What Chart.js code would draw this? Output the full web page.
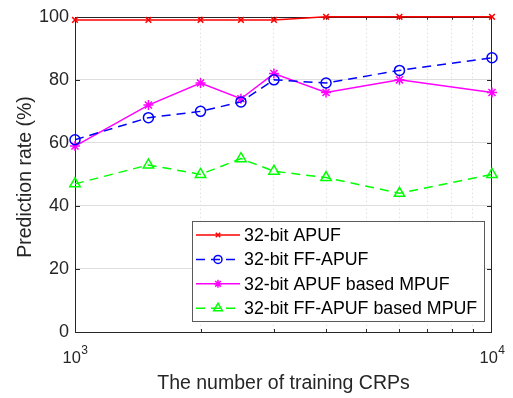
<!DOCTYPE html>
<html>
<head>
<meta charset="utf-8">
<script src="https://cdn.jsdelivr.net/npm/chart.js@4/dist/chart.umd.min.js"></script>
<style>
html,body{margin:0;padding:0;background:#fff;}
#wrap{width:513px;height:398px;position:relative;}
</style>
</head>
<body>
<div id="wrap"><canvas id="c" width="513" height="398"></canvas></div>
<script>
// training CRPs (log x axis)
const crps = [1000, 1500, 2000, 2500, 3000, 4000, 6000, 10000];
const apuf = [99, 99, 99, 99, 99, 100, 100, 100];
const ffApuf = [61, 68, 70, 73, 80, 79, 83, 87];
const apufMpuf = [59, 72, 79, 74, 82, 76, 80, 76];
const ffApufMpuf = [47, 53, 50, 55, 51, 49, 44, 50];
const seriesNames = ['32-bit APUF', '32-bit FF-APUF', '32-bit APUF based MPUF', '32-bit FF-APUF based MPUF'];
const yTicks = [0, 20, 40, 60, 80, 100];
const xGrid = [1000, 2000, 3000, 4000, 5000, 6000, 7000, 8000, 9000, 10000];
const xMinor = xGrid.slice(1, -1);

const AX = '#262626', FONT = 'Arial, "Liberation Sans", Helvetica, sans-serif';
const pts = arr => arr.map((v, i) => ({x: crps[i], y: v}));

function mk(label, data, color, style, r, dash) {
  return {label, data: pts(data), borderColor: color, backgroundColor: color,
    pointBorderColor: color, pointBackgroundColor: 'rgba(0,0,0,0)',
    pointStyle: style, pointRadius: r, pointHoverRadius: r, pointBorderWidth: 1.5,
    borderWidth: 1.5, borderDash: dash, tension: 0, fill: false, clip: false};
}

function marker(ctx, style, x, y, r) {
  ctx.beginPath();
  if (style === 'crossRot') {
    const d = r * 0.75;
    ctx.moveTo(x-d, y-d); ctx.lineTo(x+d, y+d); ctx.moveTo(x+d, y-d); ctx.lineTo(x-d, y+d);
  } else if (style === 'circle') {
    ctx.arc(x, y, r, 0, Math.PI*2);
  } else if (style === 'star') {
    const d = r * 0.7;
    ctx.moveTo(x-r, y); ctx.lineTo(x+r, y); ctx.moveTo(x, y-r); ctx.lineTo(x, y+r);
    ctx.moveTo(x-d, y-d); ctx.lineTo(x+d, y+d); ctx.moveTo(x+d, y-d); ctx.lineTo(x-d, y+d);
  } else if (style === 'triangle') {
    ctx.moveTo(x, y-r); ctx.lineTo(x+r*0.87, y+r*0.5); ctx.lineTo(x-r*0.87, y+r*0.5); ctx.closePath();
  }
  ctx.stroke();
}

const frame = {
  id: 'frame',
  beforeDatasetsDraw(chart) {
    const {ctx, chartArea: a, scales: {x, y}} = chart;
    ctx.save();
    ctx.strokeStyle = AX; ctx.lineWidth = 1;
    ctx.strokeRect(Math.round(a.left)+0.5, Math.round(a.top)+0.5, Math.round(a.right-a.left)-1, Math.round(a.bottom-a.top));
    ctx.beginPath();
    yTicks.slice(1, -1).forEach(v => {
      const py = Math.round(y.getPixelForValue(v)) + 0.5;
      ctx.moveTo(a.left, py); ctx.lineTo(a.left+5, py);
      ctx.moveTo(a.right, py); ctx.lineTo(a.right-5, py);
    });
    xMinor.forEach(v => {
      const px = Math.round(x.getPixelForValue(v)) + 0.5;
      ctx.moveTo(px, a.bottom); ctx.lineTo(px, a.bottom-3);
      ctx.moveTo(px, a.top); ctx.lineTo(px, a.top+3);
    });
    ctx.stroke();
    ctx.restore();
  },
  afterDraw(chart) {
    const {ctx, chartArea: a, scales: {x}} = chart;
    ctx.save();
    ctx.fillStyle = AX;
    // x tick labels 10^3, 10^4
    [[1000, '3'], [10000, '4']].forEach(([v, e]) => {
      const px = x.getPixelForValue(v);
      ctx.font = '16.5px ' + FONT;
      const bw = ctx.measureText('10').width;
      ctx.font = '12px ' + FONT;
      const ew = ctx.measureText(e).width;
      const x0 = px - (bw + ew) / 2;
      ctx.textAlign = 'left'; ctx.textBaseline = 'alphabetic';
      ctx.font = '16.5px ' + FONT;
      ctx.fillText('10', x0, 363);
      ctx.font = '12px ' + FONT;
      ctx.fillText(e, x0 + bw + 0.5, 354);
    });
    // axis titles
    ctx.font = '19.5px ' + FONT;
    ctx.textAlign = 'center'; ctx.textBaseline = 'middle';
    ctx.fillText('The number of training CRPs', (a.left + a.right) / 2, 384);
    ctx.save();
    ctx.translate(26, 177); ctx.rotate(-Math.PI/2);
    ctx.fillText('Prediction rate (%)', 0, 0);
    ctx.restore();
    // legend
    const L = 192, T = 221, W = 292, H = 100;
    ctx.fillStyle = '#fff';
    ctx.fillRect(L, T, W, H);
    ctx.strokeStyle = '#5a5a5a'; ctx.lineWidth = 1;
    ctx.strokeRect(L+0.5, T+0.5, W, H);
    chart.data.datasets.forEach((ds, i) => {
      const cy = 235 + i * 24.4;
      ctx.strokeStyle = ds.borderColor; ctx.lineWidth = 1.5;
      ctx.setLineDash(ds.borderDash);
      ctx.beginPath(); ctx.moveTo(L+4, cy); ctx.lineTo(L+48, cy); ctx.stroke();
      ctx.setLineDash([]);
      const r = ds.pointStyle === 'crossRot' ? 3 : ds.pointStyle === 'triangle' ? 5 : 4;
      marker(ctx, ds.pointStyle, L+26, cy, r);
      ctx.fillStyle = '#000';
      ctx.font = '17.8px ' + FONT;
      ctx.textAlign = 'left'; ctx.textBaseline = 'middle';
      ctx.fillText(ds.label, L+52, cy+1);
    });
    ctx.restore();
  }
};

new Chart(document.getElementById('c'), {
  type: 'line',
  data: {datasets: [
    mk(seriesNames[0], apuf, '#ff0000', 'crossRot', 4, []),
    mk(seriesNames[1], ffApuf, '#0000ff', 'circle', 5, [9, 6]),
    mk(seriesNames[2], apufMpuf, '#ff00ff', 'star', 5, []),
    mk(seriesNames[3], ffApufMpuf, '#00ff00', 'triangle', 6, [9, 6])
  ]},
  options: {
    responsive: false, animation: false, devicePixelRatio: 1,
    layout: {padding: {top: 14, right: 21, left: 0, bottom: 0}},
    plugins: {legend: {display: false}, tooltip: {enabled: false}},
    scales: {
      x: {type: 'logarithmic', min: 1000, max: 10000,
        afterBuildTicks: s => { s.ticks = xGrid.map(v => ({value: v})); },
        ticks: {display: false},
        grid: {drawTicks: false, lineWidth: 1,
          color: c => (c.tick && (c.tick.value === 1000 || c.tick.value === 10000)) ? 'rgba(0,0,0,0)' : '#d4d4d4'},
        border: {display: false, dash: [1, 3]},
        afterFit: s => { s.height = 66; }},
      y: {min: 0, max: 100,
        ticks: {stepSize: 20, color: AX, font: {size: 18, family: FONT}, padding: 6},
        grid: {drawTicks: false, lineWidth: 1,
          color: c => (c.tick && (c.tick.value === 0 || c.tick.value === 100)) ? 'rgba(0,0,0,0)' : '#dedede'},
        border: {display: false},
        afterFit: s => { s.width = 75; }}
    }
  },
  plugins: [frame]
});
</script>
</body>
</html>
